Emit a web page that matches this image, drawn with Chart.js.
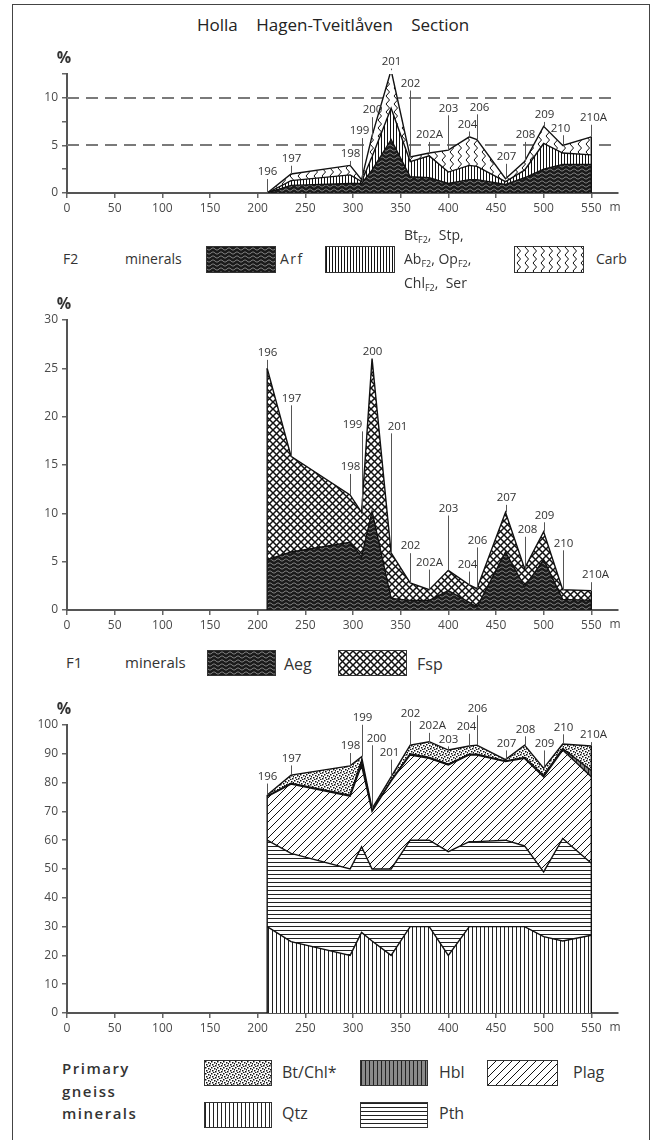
<!DOCTYPE html>
<html>
<head>
<meta charset="utf-8">
<script src="https://cdn.jsdelivr.net/npm/chart.js@4.4.1/dist/chart.umd.min.js"></script>
<style>
  body { margin:0; width:653px; height:1140px; overflow:hidden; background:#fff; position:relative;
         font-family:'Open Sans', sans-serif; color:#333; }
  .frame { position:absolute; left:12px; top:4px; width:636px; height:1170px; border:1.5px solid #444; }
  canvas.plot { position:absolute; left:0; }
  .t { position:absolute; white-space:nowrap; line-height:1; transform:translateY(-50%); }
  .t sub { font-size:9px; vertical-align:-3px; line-height:0; }
  canvas.sw { position:absolute; border:1.5px solid #333; box-sizing:border-box; }
</style>
</head>
<body>
<div class="frame"></div>

<div class="t" style="left:197px;top:24px;font-size:17px;color:#222;word-spacing:14px">Holla Hagen-Tveitlåven Section</div>

<canvas id="c1" class="plot" width="653" height="230" style="top:0"></canvas>
<canvas id="c2" class="plot" width="653" height="360" style="top:290px"></canvas>
<canvas id="c3" class="plot" width="653" height="360" style="top:690px"></canvas>

<!-- F2 legend -->
<div class="t" style="left:63px;top:259px;font-size:14px">F2</div>
<div class="t" style="left:125px;top:259px;font-size:14px">minerals</div>
<div class="t" style="left:280px;top:259px;font-size:14px;letter-spacing:1.5px">Arf</div>
<div class="t" style="left:404px;top:235px;font-size:14px">Bt<sub>F2</sub>, &nbsp;Stp,</div>
<div class="t" style="left:404px;top:259px;font-size:14px">Ab<sub>F2</sub>, Op<sub>F2</sub>,</div>
<div class="t" style="left:404px;top:283px;font-size:14px">Chl<sub>F2</sub>, &nbsp;Ser</div>
<div class="t" style="left:596px;top:259px;font-size:14px">Carb</div>

<!-- F1 legend -->
<div class="t" style="left:66px;top:662px;font-size:15px">F1</div>
<div class="t" style="left:125px;top:662px;font-size:15px">minerals</div>
<div class="t" style="left:284px;top:664px;font-size:16px">Aeg</div>
<div class="t" style="left:417px;top:664px;font-size:16px">Fsp</div>

<!-- primary gneiss legend -->
<div class="t" style="left:62px;top:1068px;font-size:15px;letter-spacing:1.5px;font-weight:600">Primary</div>
<div class="t" style="left:62px;top:1091px;font-size:15px;letter-spacing:1.5px;font-weight:600">gneiss</div>
<div class="t" style="left:62px;top:1113px;font-size:15px;letter-spacing:1.5px;font-weight:600">minerals</div>
<div class="t" style="left:282px;top:1072px;font-size:16px">Bt/Chl*</div>
<div class="t" style="left:439px;top:1072px;font-size:16px">Hbl</div>
<div class="t" style="left:573px;top:1072px;font-size:16px">Plag</div>
<div class="t" style="left:282px;top:1113px;font-size:16px">Qtz</div>
<div class="t" style="left:439px;top:1113px;font-size:16px">Pth</div>

<script>
// sample numbers and their position along the section (m)
const samples = ['196','197','198','199','200','201','202','202A','203','204','206','207','208','209','210','210A'];
const metres  = [210, 235, 297, 309, 320, 340, 360, 380, 400, 422, 430, 460, 480, 500, 520, 550];
const xTicks  = [0, 50, 100, 150, 200, 250, 300, 350, 400, 450, 500, 550];

// F2 minerals (%)
const arf   = [0, 0.8, 1.0, 1.0, 2.4, 5.6, 1.7, 1.6, 1.0, 1.4, 1.4, 0.9, 1.6, 2.5, 3.0, 3.0];
const btF2  = [0, 0.5, 0.9, 0.2, 1.4, 3.3, 1.6, 2.3, 1.2, 1.5, 1.4, 0.3, 0.8, 2.7, 1.2, 1.0];
const carb  = [0, 0.7, 1.0, 0.2, 2.2, 4.0, 0.5, 0.3, 2.3, 3.0, 2.8, 0.3, 0.9, 1.8, 0.8, 1.9];

// F1 minerals (%)
const aeg   = [5.2, 6.0, 7.0, 5.5, 10.2, 1.2, 1.0, 1.0, 2.0, 0.8, 0.3, 6.0, 2.4, 5.2, 1.1, 1.0];
const fsp   = [19.8, 9.9, 4.9, 4.6, 15.8, 4.7, 1.8, 1.1, 2.1, 1.8, 1.9, 4.1, 1.9, 2.9, 1.0, 1.0];

// primary gneiss minerals (%)
const qtz   = [30, 24.8, 20, 28, 25, 20, 30, 30, 20, 30, 30, 30, 30, 26.5, 25, 27];
const pth   = [30, 30.6, 30, 29.7, 25, 30, 30, 30, 36, 29.5, 29.5, 30, 28, 22.5, 35.6, 25];
const plag  = [15.1, 24.1, 25.3, 28.3, 20, 30.5, 29.6, 28.4, 30.1, 30.1, 30.1, 27.3, 30.4, 33, 30.7, 30];
const hbl   = [0.2, 0.3, 0.3, 1.6, 0.3, 0.3, 0.4, 0.3, 0.3, 0.3, 0.3, 0.2, 0.3, 0.5, 0.5, 2.2];
const btChl = [0.4, 2.8, 10.2, 1.4, 0.7, 1.2, 3.0, 5.5, 4.9, 2.8, 3.1, 0.5, 4.3, 2.5, 1.6, 8.5];

// height (in %) at which each sample number is written, and sideways nudges (px)
const tagsF2 = [2.2, 3.6, 4.1, 6.5, 8.7, 13.8, 11.5, 6.1, 8.9, 7.2, 9.0, 3.8, 6.1, 8.2, 6.8, 7.9];
const tagsF1 = [26.6, 21.9, 14.8, 19.2, 26.7, 19.0, 6.6, 4.9, 10.5, 4.7, 7.2, 11.6, 8.3, 9.8, 6.9, 3.6];
const tagsPG = [82.1, 88.4, 92.7, 102.5, 95.4, 90.4, 103.8, 99.7, 95, 99.4, 105.8, 93.6, 98.5, 93.6, 99.2, 96.5];
const nudgeF2 = [0, 0, 0, -3, 0, 0, 0, 0, 0, -2, 2, 0, 0, 0, -3, 2];
const nudgeF1 = [0, 0, 0, -10, 0, 6, 0, 0, 0, -2, 0, 0, 2, 0, 0, 4];
const nudgePG = [0, 0, 0, 0, 4, -2, 0, 3, 0, -3, 0, 0, 0, 0, 0, 2];

Chart.defaults.font.family = "'Open Sans', sans-serif";
Chart.defaults.font.size = 12;
Chart.defaults.color = '#4a4a4a';

// ---- fill patterns ----
function makePattern(w, h, draw) {
  const c = document.createElement('canvas');
  c.width = w; c.height = h;
  const g = c.getContext('2d');
  draw(g, w, h);
  return g.createPattern(c, 'repeat');
}
const pat = {
  wavy: makePattern(8, 4, (g, w, h) => {
    g.fillStyle = '#1b1b1b'; g.fillRect(0, 0, w, h);
    g.strokeStyle = '#9a9a9a'; g.lineWidth = 0.8;
    g.beginPath();
    for (let x = 0; x <= w; x++) g.lineTo(x, 2 + 1.1 * Math.sin(x / w * Math.PI * 2));
    g.stroke();
  }),
  vlines: makePattern(3, 1, (g, w, h) => {
    g.fillStyle = '#fff'; g.fillRect(0, 0, w, h);
    g.fillStyle = '#111'; g.fillRect(0, 0, 1, h);
  }),
  zigzag: makePattern(8, 8, (g, w, h) => {
    g.fillStyle = '#fff'; g.fillRect(0, 0, w, h);
    g.strokeStyle = '#111'; g.lineWidth = 1;
    g.beginPath(); g.moveTo(2, 0); g.lineTo(5.5, 4); g.lineTo(2, 8); g.stroke();
  }),
  cross: makePattern(7, 7, (g, w, h) => {
    g.fillStyle = '#fff'; g.fillRect(0, 0, w, h);
    g.strokeStyle = '#111'; g.lineWidth = 1.5;
    g.beginPath(); g.moveTo(0, 0); g.lineTo(w, h); g.moveTo(w, 0); g.lineTo(0, h); g.stroke();
  }),
  dots: makePattern(6, 6, (g, w, h) => {
    g.fillStyle = '#fff'; g.fillRect(0, 0, w, h);
    g.fillStyle = '#111';
    [[0, 0], [3, 1], [1, 3], [4, 4], [5, 2], [2, 5]].forEach(p => g.fillRect(p[0], p[1], 1.5, 1.5));
  }),
  hbl: makePattern(4, 1, (g, w, h) => {
    g.fillStyle = '#8a8a8a'; g.fillRect(0, 0, w, h);
    g.fillStyle = '#222'; g.fillRect(0, 0, 1, h);
  }),
  diag: makePattern(8, 8, (g, w, h) => {
    g.fillStyle = '#fff'; g.fillRect(0, 0, w, h);
    g.strokeStyle = '#111'; g.lineWidth = 1;
    g.beginPath();
    g.moveTo(0, h); g.lineTo(w, 0);
    g.moveTo(-1, 1); g.lineTo(1, -1);
    g.moveTo(w - 1, h + 1); g.lineTo(w + 1, h - 1);
    g.stroke();
  }),
  qtz: makePattern(4, 1, (g, w, h) => {
    g.fillStyle = '#fff'; g.fillRect(0, 0, w, h);
    g.fillStyle = '#222'; g.fillRect(0, 0, 1, h);
  }),
  pth: makePattern(1, 4, (g, w, h) => {
    g.fillStyle = '#fff'; g.fillRect(0, 0, w, h);
    g.fillStyle = '#222'; g.fillRect(0, 0, w, 1);
  })
};

// legend boxes
function swatch(x, y, w, h, p) {
  const c = document.createElement('canvas');
  c.className = 'sw';
  c.width = w; c.height = h;
  c.style.left = x + 'px'; c.style.top = y + 'px';
  const g = c.getContext('2d');
  g.fillStyle = p; g.fillRect(0, 0, w, h);
  document.body.appendChild(c);
}
swatch(206, 246, 68, 25, pat.wavy);
swatch(325, 246, 68, 25, pat.vlines);
swatch(514, 246, 68, 25, pat.zigzag);
swatch(207, 650, 67, 24, pat.wavy);
swatch(338, 650, 67, 24, pat.cross);
swatch(204, 1060, 66, 24, pat.dots);
swatch(360, 1060, 66, 24, pat.hbl);
swatch(487, 1060, 69, 24, pat.diag);
swatch(204, 1102, 66, 24, pat.qtz);
swatch(360, 1102, 66, 24, pat.pth);

function layer(label, values, pattern, first) {
  return {
    label,
    data: metres.map((m, i) => ({ x: m, y: values[i] })),
    backgroundColor: pattern,
    borderColor: '#111',
    borderWidth: 1.4,
    fill: first ? 'origin' : '-1',
    pointRadius: 0,
    tension: 0
  };
}

// sample numbers with leader lines, "%" and "m" axis captions, section edges
const sectionMarks = {
  id: 'sectionMarks',
  beforeDatasetsDraw(chart, args, o) {
    if (!o.dashed) return;
    const { ctx, chartArea: a, scales: { y } } = chart;
    ctx.save();
    ctx.strokeStyle = '#7a7a7a'; ctx.lineWidth = 2; ctx.setLineDash([12, 7]);
    o.dashed.forEach(v => {
      const py = Math.round(y.getPixelForValue(v));
      ctx.beginPath(); ctx.moveTo(a.left, py); ctx.lineTo(a.right, py); ctx.stroke();
    });
    ctx.restore();
  },
  afterDraw(chart, args, o) {
    const { ctx, chartArea: a, scales: { x, y } } = chart;
    const totals = metres.map((m, i) => chart.data.datasets.reduce((s, d) => s + d.data[i].y, 0));
    ctx.save();
    // edges of the sampled interval
    ctx.strokeStyle = '#111'; ctx.lineWidth = 1.4;
    [0, metres.length - 1].forEach(i => {
      const px = x.getPixelForValue(metres[i]);
      ctx.beginPath(); ctx.moveTo(px, y.getPixelForValue(0)); ctx.lineTo(px, y.getPixelForValue(totals[i])); ctx.stroke();
    });
    // sample tags
    ctx.font = "11.5px 'Open Sans', sans-serif";
    ctx.textAlign = 'center'; ctx.textBaseline = 'middle';
    ctx.strokeStyle = '#555'; ctx.lineWidth = 1;
    samples.forEach((s, i) => {
      const px = Math.round(x.getPixelForValue(metres[i])) + 0.5;
      const top = y.getPixelForValue(totals[i]);
      const ly = y.getPixelForValue(o.tags[i]);
      if (ly + 7 < top) {
        ctx.beginPath(); ctx.moveTo(px, top); ctx.lineTo(px, ly + 7); ctx.stroke();
      }
      ctx.fillStyle = '#333';
      ctx.fillText(s, px + o.nudge[i], ly);
    });
    // axis captions
    ctx.font = "bold 16px 'Open Sans', sans-serif";
    ctx.fillStyle = '#333';
    ctx.fillText('%', a.left - 3, a.top - 16);
    ctx.font = "12px 'Open Sans', sans-serif";
    ctx.fillStyle = '#4a4a4a';
    ctx.fillText('m', a.right - 3, a.bottom + 15);
    ctx.restore();
  }
};

function options(yMax, yStep, yLabel, padTop, axisH, marks) {
  return {
    responsive: false,
    animation: false,
    layout: { padding: { top: padTop, right: 35, left: 0, bottom: 0 } },
    plugins: { legend: { display: false }, tooltip: { enabled: false }, sectionMarks: marks },
    scales: {
      x: {
        type: 'linear', min: 0, max: 578,
        afterBuildTicks: s => { s.ticks = xTicks.map(v => ({ value: v })); },
        afterFit: s => { s.height = axisH; },
        ticks: { padding: 3, maxRotation: 0, autoSkip: false },
        grid: { drawOnChartArea: false, drawTicks: true, tickLength: 5, color: '#666', lineWidth: 1.5 },
        border: { display: true, color: '#555', width: 2 }
      },
      y: {
        stacked: true, min: 0, max: yMax,
        afterFit: s => { s.width = 67; },
        ticks: { stepSize: yStep, padding: 4, callback: yLabel },
        grid: { drawOnChartArea: false, drawTicks: true, tickLength: 5, color: '#666', lineWidth: 1.5 },
        border: { display: true, color: '#555', width: 2 }
      }
    }
  };
}

new Chart(document.getElementById('c1'), {
  type: 'line',
  data: { datasets: [
    layer('Arf', arf, pat.wavy, true),
    layer('BtF2, Stp, AbF2, OpF2, ChlF2, Ser', btF2, pat.vlines),
    layer('Carb', carb, pat.zigzag)
  ] },
  options: options(12.5, 2.5, v => (v % 5 === 0 ? v : ''), 74, 37, { tags: tagsF2, nudge: nudgeF2, dashed: [5, 10] }),
  plugins: [sectionMarks]
});

new Chart(document.getElementById('c2'), {
  type: 'line',
  data: { datasets: [
    layer('Aeg', aeg, pat.wavy, true),
    layer('Fsp', fsp, pat.cross)
  ] },
  options: options(30, 5, v => v, 30, 40, { tags: tagsF1, nudge: nudgeF1 }),
  plugins: [sectionMarks]
});

new Chart(document.getElementById('c3'), {
  type: 'line',
  data: { datasets: [
    layer('Qtz', qtz, pat.qtz, true),
    layer('Pth', pth, pat.pth),
    layer('Plag', plag, pat.diag),
    layer('Hbl', hbl, pat.hbl),
    layer('Bt/Chl*', btChl, pat.dots)
  ] },
  options: options(100, 10, v => v, 35, 37, { tags: tagsPG, nudge: nudgePG }),
  plugins: [sectionMarks]
});
</script>
</body>
</html>
